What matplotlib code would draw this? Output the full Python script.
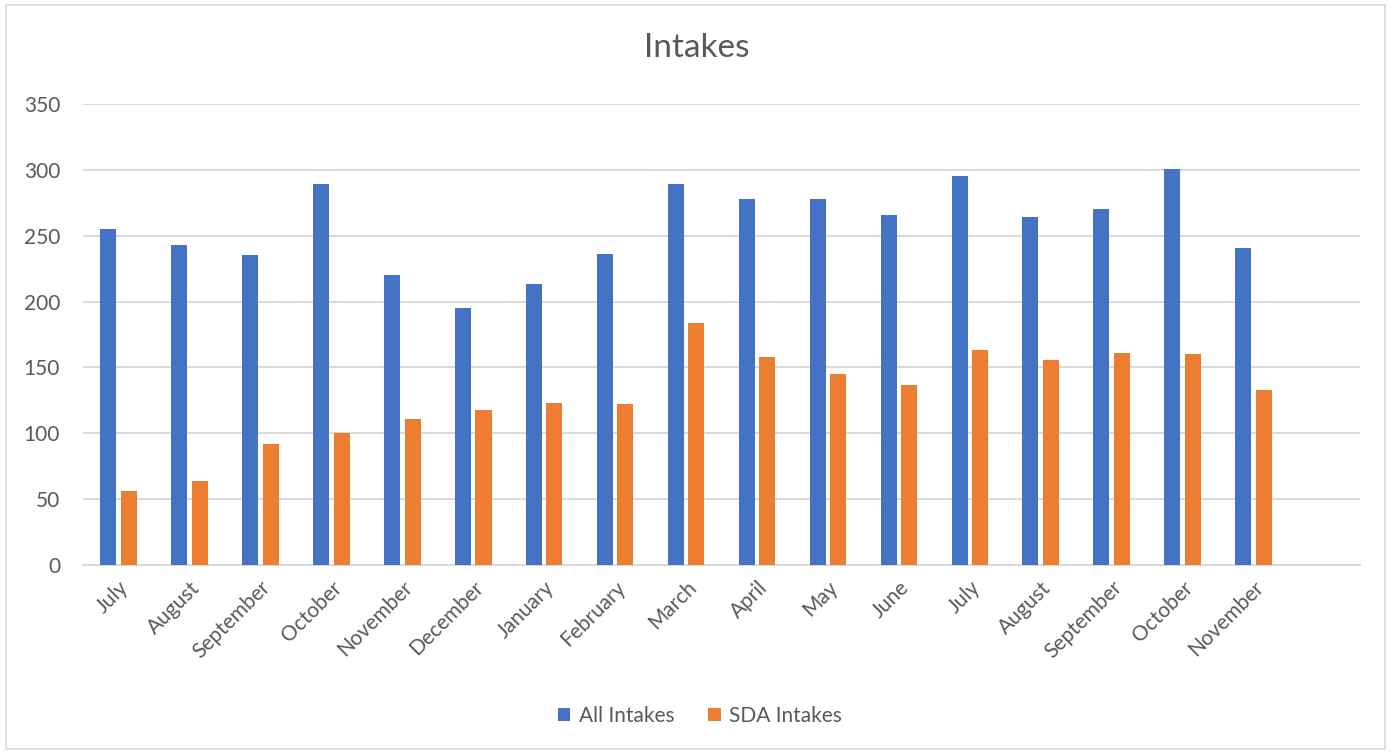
import numpy as np
import matplotlib
matplotlib.use("Agg")
import matplotlib.pyplot as plt
from matplotlib.patches import Rectangle

months = ["July", "August", "September", "October", "November", "December",
          "January", "February", "March", "April", "May", "June",
          "July", "August", "September", "October", "November"]
all_intakes = [255, 243, 235, 289, 220, 195, 213, 236, 289, 278, 278, 266,
               295, 264, 270, 301, 241]
sda_intakes = [56, 64, 92, 100, 111, 118, 123, 122, 184, 158, 145, 137,
               163, 156, 161, 160, 133]

plt.rcParams['font.family'] = ['Lato', 'DejaVu Sans']
grey = "#595959"

fig = plt.figure(figsize=(13.91, 7.52), dpi=100)
ax = fig.add_axes([0.0597, 0.2487, 0.918, 0.613])

x = np.arange(len(months))
w = 0.226
ax.bar(x - 0.145, all_intakes, width=w, color="#4472C4", label="All Intakes", zorder=3)
ax.bar(x + 0.145, sda_intakes, width=w, color="#ED7D31", label="SDA Intakes", zorder=3)

ax.set_xlim(-0.5, 17.5)
ax.set_ylim(0, 350)
ax.set_yticks(range(0, 351, 50))
ax.yaxis.grid(True, color="#d9d9d9", linewidth=1.4, zorder=0)
for s in ["top", "right", "left"]:
    ax.spines[s].set_visible(False)
ax.spines["bottom"].set_color("#d9d9d9")
ax.spines["bottom"].set_linewidth(1.4)
ax.tick_params(length=0, labelcolor=grey, labelsize=15)
ax.tick_params(axis="y", pad=16.5)
ax.set_xticks(x)
ax.set_xticklabels(months, rotation=45, ha="right", rotation_mode="anchor")
ax.tick_params(axis="x", pad=9)

fig.text(0.501, 0.936, "Intakes", ha="center", va="center", fontsize=24, color=grey)

leg = fig.legend(loc="center", bbox_to_anchor=(0.503, 0.048), ncol=2, frameon=False,
                 fontsize=15, handlelength=0.62, handleheight=0.62, handletextpad=0.4,
                 columnspacing=1.6)
for t in leg.get_texts():
    t.set_color(grey)

fig.patches.append(Rectangle((0.004, 0.004), 0.992, 0.99, transform=fig.transFigure,
                             fill=False, edgecolor="#d9d9d9", linewidth=1.2))

fig.savefig("out.png", dpi=100)
